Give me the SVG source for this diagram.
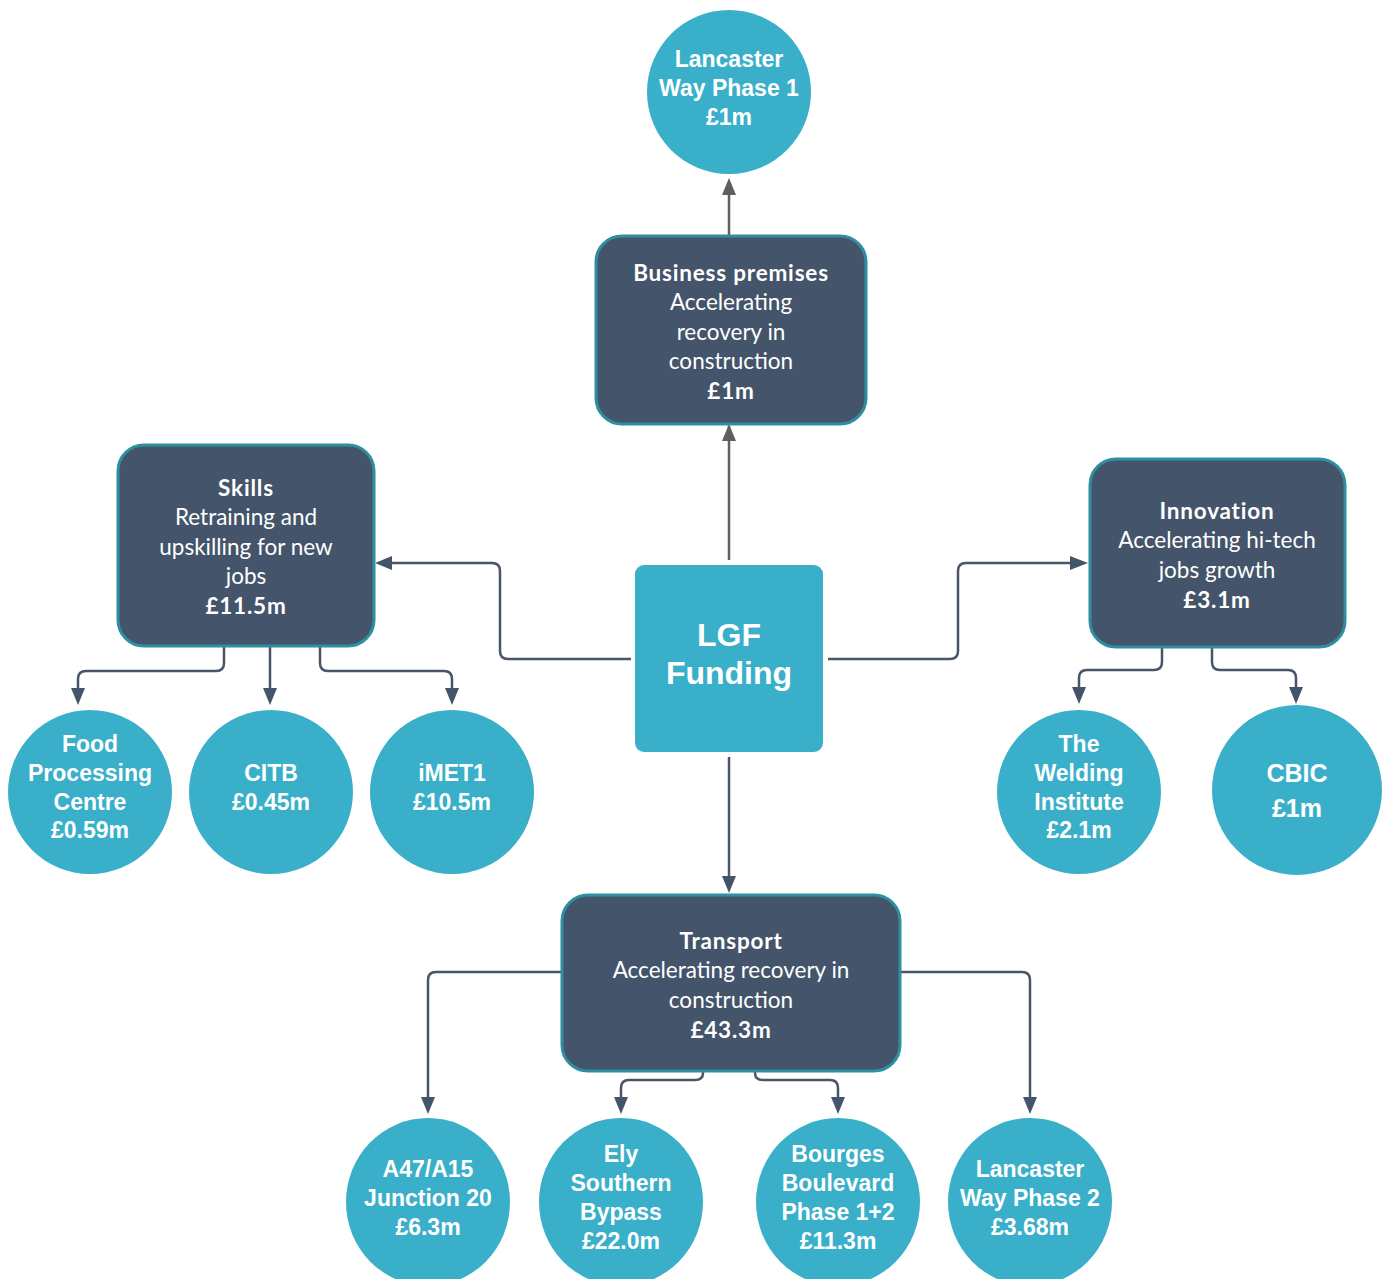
<svg xmlns="http://www.w3.org/2000/svg" width="1391" height="1279" viewBox="0 0 1391 1279">
<style>
.box{fill:#44546a;stroke:#2e8fa0;stroke-width:3}
.circ{fill:#3aafc9}
.lgf{fill:#3aafc9}
.bt{font-family:Lato,"Open Sans",sans-serif;font-size:22.5px;fill:#ffffff;text-anchor:middle}
.bt .b{font-weight:bold;letter-spacing:0.8px}
.ct{font-family:"Liberation Sans",Arial,sans-serif;font-weight:bold;font-size:23px;fill:#ffffff;text-anchor:middle}
.conn{fill:none;stroke:#4a5568;stroke-width:2.5;stroke-linejoin:round}
.gray{stroke:#5f5f5f}
.ah{fill:#44546a}
.ahg{fill:#5f5f5f}
</style>
<rect width="1391" height="1279" fill="#ffffff"/>
<g id="connectors">
<path class="conn gray" d="M729,560 V426"/>
<path class="ahg" d="M722,441 L729,424 L736,441 z"/>
<path class="conn gray" d="M729,235 V190"/>
<path class="ahg" d="M722,195 L729,178 L736,195 z"/>
<path class="conn" d="M631,659 H508 Q500,659 500,651 V571 Q500,563 492,563 H390"/>
<path class="ah" d="M392,556 L375,563 L392,570 z"/>
<path class="conn" d="M828,659 H950 Q958,659 958,651 V571 Q958,563 966,563 H1072"/>
<path class="ah" d="M1070,556 L1088,563 L1070,570 z"/>
<path class="conn" d="M729,757 V878"/>
<path class="ah" d="M722,876 L729,893 L736,876 z"/>
<path class="conn" d="M224,646 V663 Q224,671 216,671 H86 Q78,671 78,679 V690"/>
<path class="ah" d="M71,688 L78,705 L85,688 z"/>
<path class="conn" d="M270,646 V690"/>
<path class="ah" d="M263,688 L270,705 L277,688 z"/>
<path class="conn" d="M320,646 V663 Q320,671 328,671 H444 Q452,671 452,679 V690"/>
<path class="ah" d="M445,688 L452,705 L459,688 z"/>
<path class="conn" d="M1162,647 V662 Q1162,670 1154,670 H1087 Q1079,670 1079,678 V690"/>
<path class="ah" d="M1072,687 L1079,704 L1086,687 z"/>
<path class="conn" d="M1212,647 V662 Q1212,670 1220,670 H1288 Q1296,670 1296,678 V690"/>
<path class="ah" d="M1289,687 L1296,704 L1303,687 z"/>
<path class="conn" d="M562,972 H436 Q428,972 428,980 V1100"/>
<path class="ah" d="M421,1097 L428,1114 L435,1097 z"/>
<path class="conn" d="M900,972 H1022 Q1030,972 1030,980 V1100"/>
<path class="ah" d="M1023,1097 L1030,1114 L1037,1097 z"/>
<path class="conn" d="M703,1071 V1073 Q703,1080 695,1080 H629 Q621,1080 621,1088 V1100"/>
<path class="ah" d="M614,1097 L621,1114 L628,1097 z"/>
<path class="conn" d="M755,1071 V1073 Q755,1080 763,1080 H830 Q838,1080 838,1088 V1100"/>
<path class="ah" d="M831,1097 L838,1114 L845,1097 z"/>
</g>
<g id="lancaster1">
<circle class="circ" cx="729" cy="92" r="82"/>
<text class="ct" x="729" y="67">Lancaster</text>
<text class="ct" x="729" y="96">Way Phase 1</text>
<text class="ct" x="729" y="125">£1m</text>
</g>
<g id="business">
<rect class="box" x="596" y="236" width="270" height="188" rx="26"/>
<text class="bt" x="731" y="281"><tspan class="b">Business premises</tspan></text>
<text class="bt" x="731" y="310">Accelerating</text>
<text class="bt" x="731" y="340">recovery in</text>
<text class="bt" x="731" y="369">construction</text>
<text class="bt" x="731" y="399"><tspan class="b">£1m</tspan></text>
</g>
<g id="skills">
<rect class="box" x="118" y="445" width="256" height="201" rx="26"/>
<text class="bt" x="246" y="496"><tspan class="b">Skills</tspan></text>
<text class="bt" x="246" y="525">Retraining and</text>
<text class="bt" x="246" y="555">upskilling for new</text>
<text class="bt" x="246" y="584">jobs</text>
<text class="bt" x="246" y="614"><tspan class="b">£11.5m</tspan></text>
</g>
<g id="lgf">
<rect class="lgf" x="635" y="565" width="188" height="187" rx="9"/>
<text class="ct" x="729" y="646" style="font-size:32px">LGF</text>
<text class="ct" x="729" y="684" style="font-size:32px">Funding</text>
</g>
<g id="innovation">
<rect class="box" x="1090" y="459" width="255" height="188" rx="26"/>
<text class="bt" x="1217" y="519"><tspan class="b">Innovation</tspan></text>
<text class="bt" x="1217" y="548">Accelerating hi-tech</text>
<text class="bt" x="1217" y="578">jobs growth</text>
<text class="bt" x="1217" y="608"><tspan class="b">£3.1m</tspan></text>
</g>
<g id="transport">
<rect class="box" x="562" y="895" width="338" height="176" rx="26"/>
<text class="bt" x="731" y="949"><tspan class="b">Transport</tspan></text>
<text class="bt" x="731" y="978">Accelerating recovery in</text>
<text class="bt" x="731" y="1008">construction</text>
<text class="bt" x="731" y="1038"><tspan class="b">£43.3m</tspan></text>
</g>
<g id="food">
<circle class="circ" cx="90" cy="792" r="82"/>
<text class="ct" x="90" y="752">Food</text>
<text class="ct" x="90" y="781">Processing</text>
<text class="ct" x="90" y="810">Centre</text>
<text class="ct" x="90" y="838">£0.59m</text>
</g>
<g id="citb">
<circle class="circ" cx="271" cy="792" r="82"/>
<text class="ct" x="271" y="781">CITB</text>
<text class="ct" x="271" y="810">£0.45m</text>
</g>
<g id="imet1">
<circle class="circ" cx="452" cy="792" r="82"/>
<text class="ct" x="452" y="781">iMET1</text>
<text class="ct" x="452" y="810">£10.5m</text>
</g>
<g id="welding">
<circle class="circ" cx="1079" cy="792" r="82"/>
<text class="ct" x="1079" y="752">The</text>
<text class="ct" x="1079" y="781">Welding</text>
<text class="ct" x="1079" y="810">Institute</text>
<text class="ct" x="1079" y="838">£2.1m</text>
</g>
<g id="cbic">
<circle class="circ" cx="1297" cy="790" r="85"/>
<text class="ct" x="1297" y="782" style="font-size:25px">CBIC</text>
<text class="ct" x="1297" y="817" style="font-size:25px">£1m</text>
</g>
<g id="a47">
<ellipse class="circ" cx="428" cy="1202" rx="82" ry="84"/>
<text class="ct" x="428" y="1177">A47/A15</text>
<text class="ct" x="428" y="1206">Junction 20</text>
<text class="ct" x="428" y="1235">£6.3m</text>
</g>
<g id="ely">
<ellipse class="circ" cx="621" cy="1202" rx="82" ry="84"/>
<text class="ct" x="621" y="1162">Ely</text>
<text class="ct" x="621" y="1191">Southern</text>
<text class="ct" x="621" y="1220">Bypass</text>
<text class="ct" x="621" y="1249">£22.0m</text>
</g>
<g id="bourges">
<ellipse class="circ" cx="838" cy="1202" rx="82" ry="84"/>
<text class="ct" x="838" y="1162">Bourges</text>
<text class="ct" x="838" y="1191">Boulevard</text>
<text class="ct" x="838" y="1220">Phase 1+2</text>
<text class="ct" x="838" y="1249">£11.3m</text>
</g>
<g id="lancaster2">
<ellipse class="circ" cx="1030" cy="1202" rx="82" ry="84"/>
<text class="ct" x="1030" y="1177">Lancaster</text>
<text class="ct" x="1030" y="1206">Way Phase 2</text>
<text class="ct" x="1030" y="1235">£3.68m</text>
</g>
</svg>
